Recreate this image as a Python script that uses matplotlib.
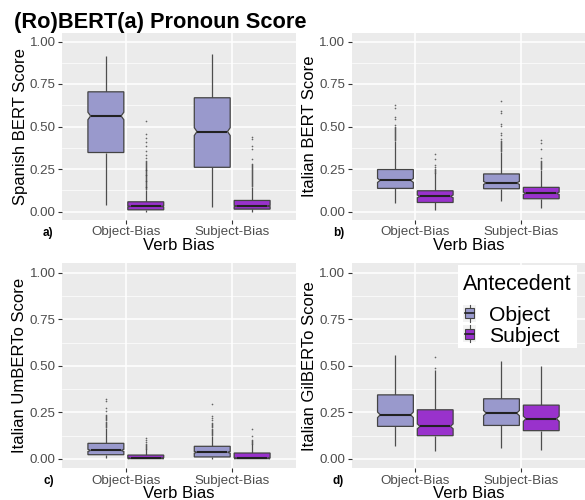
import numpy as np
import matplotlib
matplotlib.use('Agg')
import matplotlib.pyplot as plt
from matplotlib.patches import Polygon, Rectangle
from matplotlib.lines import Line2D

plt.rcParams['font.family'] = ['Liberation Sans', 'DejaVu Sans']

# datos
verb_bias = ['Object-Bias', 'Subject-Bias']
antecedents = ['Object', 'Subject']
panel_models = ['Spanish BERT', 'Italian BERT', 'Italian UmBERTo', 'Italian GilBERTo']
panel_tags = ['a)', 'b)', 'c)', 'd)']

# indices: [panel][verb bias][antecedent]
whisker_low = [
    [[0.038, 0.000], [0.024, 0.000]],
    [[0.050, 0.006], [0.059, 0.020]],
    [[0.003, 0.000], [0.000, 0.000]],
    [[0.071, 0.044], [0.059, 0.050]],
]
q1 = [
    [[0.347, 0.010], [0.260, 0.014]],
    [[0.136, 0.053], [0.134, 0.075]],
    [[0.023, 0.002], [0.011, 0.002]],
    [[0.175, 0.125], [0.180, 0.152]],
]
median = [
    [[0.562, 0.030], [0.470, 0.032]],
    [[0.183, 0.089], [0.168, 0.107]],
    [[0.046, 0.004], [0.036, 0.004]],
    [[0.237, 0.175], [0.246, 0.216]],
]
q3 = [
    [[0.704, 0.057], [0.669, 0.065]],
    [[0.247, 0.122], [0.221, 0.142]],
    [[0.084, 0.021], [0.068, 0.032]],
    [[0.344, 0.264], [0.323, 0.289]],
]
whisker_high = [
    [[0.914, 0.128], [0.927, 0.142]],
    [[0.414, 0.226], [0.350, 0.242]],
    [[0.165, 0.052], [0.125, 0.078]],
    [[0.559, 0.475], [0.528, 0.500]],
]
notch_half = [
    [[0.022, 0.003], [0.023, 0.003]],
    [[0.012, 0.008], [0.009, 0.007]],
    [[0.006, 0.002], [0.005, 0.002]],
    [[0.015, 0.013], [0.014, 0.014]],
]
outliers = [
    [[[],
      [0.533, 0.454, 0.434, 0.408, 0.385, 0.355, 0.330, 0.316, 0.300, 0.289, 0.283,
       0.278, 0.272, 0.267, 0.262, 0.257, 0.252, 0.247, 0.242, 0.237, 0.232, 0.227,
       0.222, 0.217, 0.212, 0.207, 0.202, 0.197, 0.192, 0.187, 0.182, 0.177, 0.172,
       0.167, 0.162, 0.157, 0.152, 0.147, 0.142, 0.137, 0.132]],
     [[],
      [0.438, 0.424, 0.385, 0.365, 0.310, 0.280, 0.274, 0.268, 0.262, 0.256, 0.250,
       0.244, 0.238, 0.232, 0.226, 0.220, 0.214, 0.208, 0.202, 0.196, 0.190, 0.184,
       0.178, 0.172, 0.166, 0.160, 0.154, 0.148]]],
    [[[0.625, 0.606, 0.558, 0.547, 0.507, 0.497, 0.491, 0.485, 0.479, 0.473, 0.467,
       0.461, 0.455, 0.449, 0.443, 0.437, 0.431, 0.425, 0.419],
      [0.340, 0.306, 0.276, 0.263, 0.252, 0.246, 0.240, 0.234, 0.229]],
     [[0.651, 0.592, 0.582, 0.517, 0.505, 0.460, 0.450, 0.424, 0.414, 0.408, 0.402,
       0.396, 0.390, 0.384, 0.378, 0.372, 0.366, 0.360, 0.355],
      [0.420, 0.405, 0.365, 0.316, 0.296, 0.290, 0.284, 0.278, 0.272, 0.266, 0.260,
       0.254, 0.248]]],
    [[[0.321, 0.309, 0.273, 0.255, 0.237, 0.231, 0.225, 0.219, 0.213, 0.207, 0.201,
       0.195, 0.189, 0.183, 0.177, 0.171],
      [0.112, 0.103, 0.090, 0.080, 0.075, 0.070, 0.065, 0.060, 0.056]],
     [[0.296, 0.228, 0.220, 0.210, 0.193, 0.187, 0.181, 0.175, 0.169, 0.163, 0.157,
       0.151, 0.145, 0.139, 0.133, 0.128],
      [0.160, 0.121, 0.103, 0.097, 0.091, 0.085, 0.080]]],
    [[[], [0.546, 0.488]],
     [[], []]],
]

y_ticks = [0.0, 0.25, 0.5, 0.75, 1.0]
y_tick_labels = ['0.00', '0.25', '0.50', '0.75', '1.00']

colores = {'Object': '#9999CC', 'Subject': '#9932CC'}
borde = '#444444'
ancho_caja = 0.3375
desplazamiento = 0.1875
sangria_muesca = 0.075

W, H = 585, 500
# (izquierda, arriba, ancho, alto) en pixeles
rects = [(62, 33, 234, 187), (351.7, 33, 233.3, 187),
         (62, 263.3, 234, 205), (351.7, 263.3, 233.3, 205)]


def fx(px):
    return px / W


def fy(py):
    return 1 - py / H


def dibujar_caja(ax, x, lo, b1, med, b3, hi, nh, color):
    half = ancho_caja / 2
    ind = ancho_caja * sangria_muesca
    xs = [x - half, x + half, x + half, x + half - ind, x + half, x + half,
          x - half, x - half, x - half + ind, x - half]
    ys = [b1, b1, med - nh, med, med + nh, b3, b3, med + nh, med, med - nh]
    ax.plot([x, x], [b3, hi], color='#4d4d4d', lw=0.9, zorder=2, solid_capstyle='butt')
    ax.plot([x, x], [lo, b1], color='#4d4d4d', lw=0.9, zorder=2, solid_capstyle='butt')
    ax.add_patch(Polygon(np.column_stack([xs, ys]), closed=True, fc=color,
                         ec=borde, lw=0.9, zorder=3))
    ax.plot([x - half + ind, x + half - ind], [med, med], color='#222222',
            lw=1.5, zorder=4, solid_capstyle='butt')


fig = plt.figure(figsize=(W / 100, H / 100), dpi=100)
axes = []
for p, (l, t, w, h) in enumerate(rects):
    ax = fig.add_axes([l / W, 1 - (t + h) / H, w / W, h / H])
    axes.append(ax)
    ax.set_facecolor('#EBEBEB')
    for s in ax.spines.values():
        s.set_visible(False)
    ax.set_xlim(0.4, 2.6)
    ax.set_ylim(-0.05, 1.05)
    ax.set_xticks([1, 2])
    ax.set_xticklabels(verb_bias)
    ax.set_yticks(y_ticks)
    ax.set_yticklabels(y_tick_labels)
    ax.set_yticks([0.125, 0.375, 0.625, 0.875], minor=True)
    ax.grid(True, which='major', color='white', lw=1.1)
    ax.grid(True, which='minor', axis='y', color='white', lw=0.5)
    ax.set_axisbelow(True)
    ax.tick_params(which='major', length=3, width=0.8, color='#333333',
                   labelcolor='#4D4D4D', labelsize=9.6, pad=1.5)
    ax.tick_params(which='minor', length=0)

    for v in range(2):
        for a in range(2):
            x = v + 1 + (a - 0.5) * 2 * desplazamiento
            dibujar_caja(ax, x, whisker_low[p][v][a], q1[p][v][a], median[p][v][a],
                         q3[p][v][a], whisker_high[p][v][a], notch_half[p][v][a],
                         colores[antecedents[a]])
            pts = outliers[p][v][a]
            if pts:
                ax.plot([x] * len(pts), pts, 'o', ms=1.2, mew=0, color='#444444',
                        alpha=0.8, zorder=2)

    # etiquetas de ejes
    cx = (l + w / 2) / W
    fig.text(fx(l - 42), fy(t + h / 2), panel_models[p] + ' Score',
             rotation=90, ha='center', va='center', fontsize=12)
    fig.text(cx, fy(t + h + 25.5), 'Verb Bias', ha='center', va='center', fontsize=12)
    fig.text(fx(l - 19), fy(t + h + 13), panel_tags[p], ha='left',
             va='center', fontsize=8.5, fontweight='bold')

fig.text(fx(14), fy(28), '(Ro)BERT(a) Pronoun Score', ha='left', va='baseline',
         fontsize=15.7, fontweight='bold')

# leyenda dibujada a mano (estilo ggplot)
fig.patches.append(Rectangle((fx(458), fy(348)), fx(577) - fx(458), fy(265) - fy(348),
                             transform=fig.transFigure, fc='white', ec='none', zorder=5))
fig.text(fx(463), fy(290), 'Antecedent', ha='left', va='baseline', fontsize=15.5, zorder=6)
for i, k in enumerate(antecedents):
    top = 305 + i * 20.3
    kx0, kx1 = 463.3, 475.7
    kc = (kx0 + kx1) / 2
    fig.patches.append(Rectangle((fx(kx0), fy(top + 17)), fx(kx1) - fx(kx0), fy(top) - fy(top + 17),
                                 transform=fig.transFigure, fc='#F2F2F2', ec='none', zorder=6))
    fig.lines.append(Line2D([fx(kc), fx(kc)], [fy(top + 17), fy(top)], transform=fig.transFigure,
                            color='#4d4d4d', lw=0.8, zorder=7))
    fig.patches.append(Rectangle((fx(465), fy(top + 13.3)), fx(474) - fx(465), fy(top + 3.3) - fy(top + 13.3),
                                 transform=fig.transFigure, fc=colores[k], ec=borde, lw=0.8, zorder=8))
    fig.lines.append(Line2D([fx(465), fx(474)], [fy(top + 8.3)] * 2, transform=fig.transFigure,
                            color='#222222', lw=1.2, zorder=9))
    fig.text(fx(489), fy(top + 16.3), k, ha='left', va='baseline', fontsize=15.2, zorder=6)

fig.savefig('out.png', dpi=100)
